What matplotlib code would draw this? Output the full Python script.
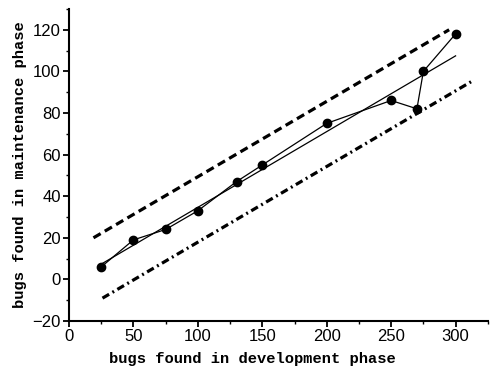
import numpy as np
import matplotlib
matplotlib.use("Agg")
import matplotlib.pyplot as plt
from matplotlib.ticker import MultipleLocator

# data
dev_bugs = [25, 50, 75, 100, 130, 150, 200, 250, 270, 275, 300]
maint_bugs = [6, 19, 24, 33, 47, 55, 75, 86, 82, 100, 118]
upper_x = [19, 295]
upper_y = [20, 120]
lower_x = [26, 312]
lower_y = [-9, 95]
fit_x = [25, 300]

fig = plt.figure(figsize=(4.91, 3.72), dpi=100)
ax = fig.add_axes([0.1405, 0.137, 0.853, 0.839])

coef = np.polyfit(dev_bugs, maint_bugs, 1)
fit_y = np.polyval(coef, fit_x)

ax.plot(fit_x, fit_y, color="black", lw=0.9)
ax.plot(dev_bugs, maint_bugs, color="black", lw=0.9, marker="o", ms=6)
ax.plot(upper_x, upper_y, color="black", lw=2.3, dashes=(2.6, 1.5))
ax.plot(lower_x, lower_y, color="black", lw=2.3, dashes=(2.4, 1.2, 0.6, 1.2))

ax.set_xlim(0, 325)
ax.set_ylim(-20, 130)
ax.xaxis.set_major_locator(MultipleLocator(50))
ax.xaxis.set_minor_locator(MultipleLocator(25))
ax.yaxis.set_major_locator(MultipleLocator(20))
ax.yaxis.set_minor_locator(MultipleLocator(10))
for s in ["top", "right"]:
    ax.spines[s].set_visible(False)
for s in ["left", "bottom"]:
    ax.spines[s].set_linewidth(1.5)
ax.tick_params(which="major", direction="out", length=4, width=1.3, labelsize=12, pad=2)
ax.tick_params(which="minor", direction="out", length=2.5, width=1.0)
for lab in ax.get_xticklabels() + ax.get_yticklabels():
    lab.set_family("Liberation Sans")

ax.set_xlabel("bugs found in development phase", family="Liberation Mono",
              fontweight="bold", fontsize=11.1)
ax.set_ylabel("bugs found in maintenance phase", family="Liberation Mono",
              fontweight="bold", fontsize=11.1)
ax.xaxis.set_label_coords(0.437, -0.098)
ax.yaxis.set_label_coords(-0.100, 0.5)

fig.savefig("out.png", dpi=100)
